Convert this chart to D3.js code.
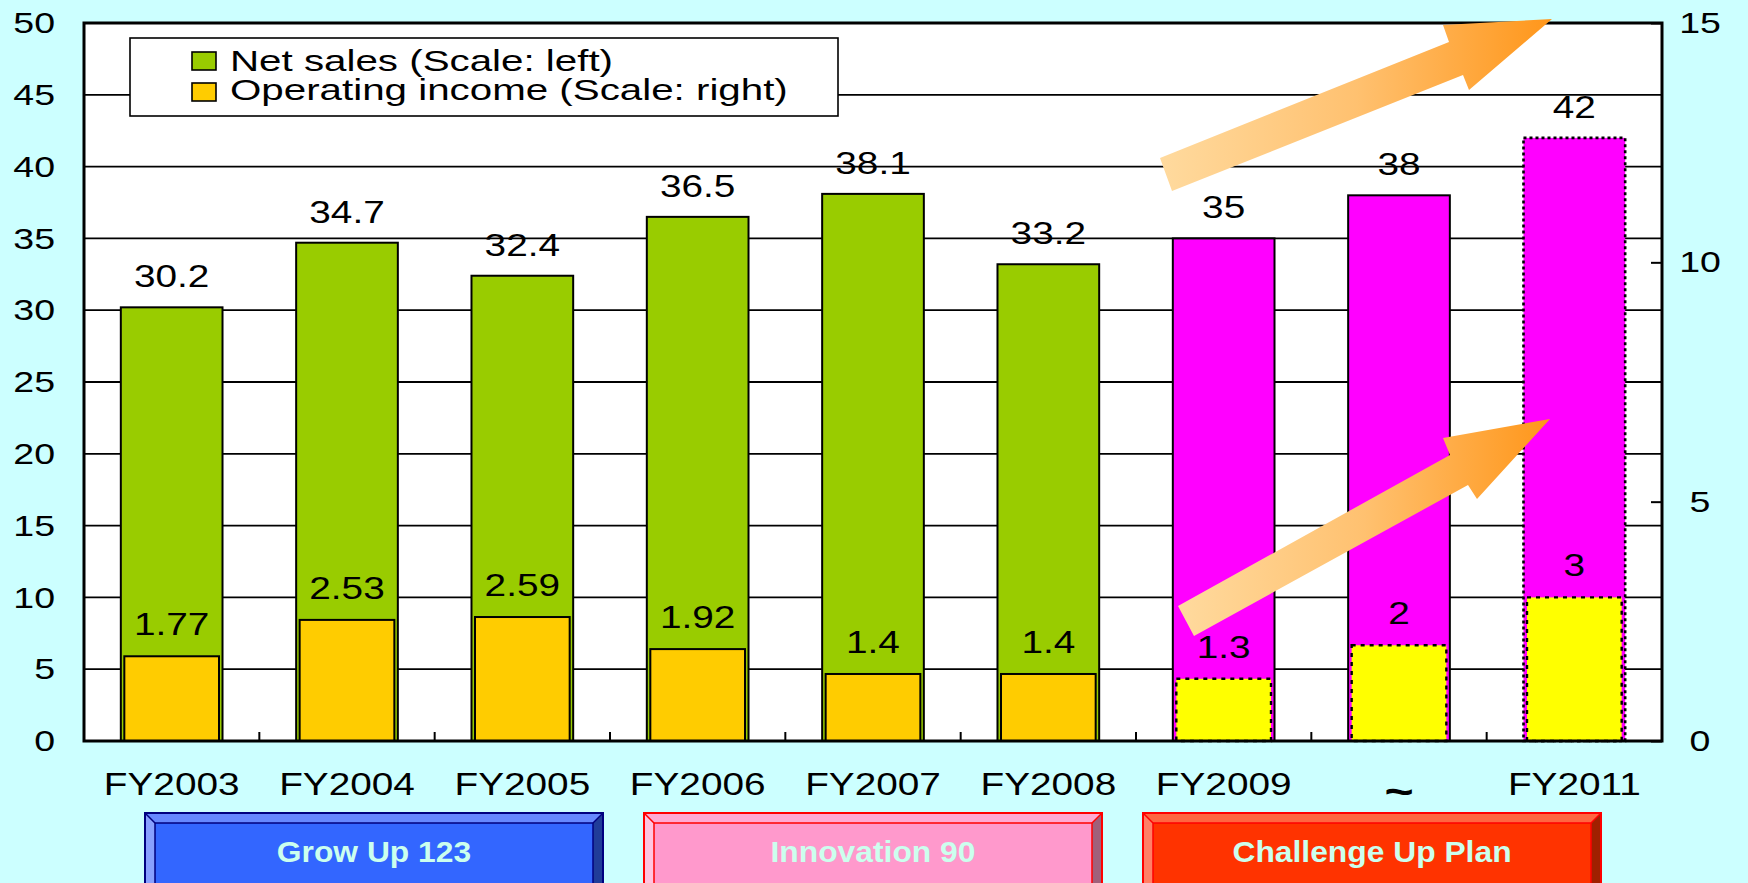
<!DOCTYPE html>
<html>
<head>
<meta charset="utf-8">
<script src="https://cdn.jsdelivr.net/npm/d3@7"></script>
<style>
  html, body { margin: 0; padding: 0; background: #CCFFFF; }
  svg { display: block; }
  text { font-family: "Liberation Sans", Arial, Helvetica, sans-serif; }
</style>
</head>
<body>
<svg id="chart" width="1748" height="883"></svg>
<script>
// ---- data ----
const categories = ["FY2003", "FY2004", "FY2005", "FY2006", "FY2007", "FY2008", "FY2009", "~", "FY2011"];
const netSales = [30.2, 34.7, 32.4, 36.5, 38.1, 33.2, 35, 38, 42];           // billion yen, left scale
const operatingIncome = [1.77, 2.53, 2.59, 1.92, 1.4, 1.4, 1.3, 2, 3];     // billion yen, right scale
const basis = ["actual", "actual", "actual", "actual", "actual", "actual", "forecast", "plan", "target"];
const leftTicks = [0, 5, 10, 15, 20, 25, 30, 35, 40, 45, 50];
const rightTicks = [0, 5, 10, 15];
const seriesNames = ["Net sales (Scale: left)", "Operating income (Scale: right)"];
const planNames = ["Grow Up 123", "Innovation 90", "Challenge Up Plan"];

// ---- layout ----
const W = 1748, H = 883;
const plot = { left: 84, right: 1662, top: 23, bottom: 741 };
const SX = 1.25;           // wide lettering used throughout the chart
const FONT = 31;

const svg = d3.select("#chart");
const defs = svg.append("defs");

svg.append("rect").attr("width", W).attr("height", H).attr("fill", "#CCFFFF");

const x = d3.scaleBand().domain(categories).range([plot.left, plot.right]);
const yL = d3.scaleLinear().domain([0, 50]).range([plot.bottom, plot.top]);
const yR = d3.scaleLinear().domain([0, 15]).range([plot.bottom, plot.top]);
const cx = c => x(c) + x.bandwidth() / 2;

// horizontally widen a text selection while keeping its anchor point
function widen(sel, sx) {
  sel.each(function () {
    const t = d3.select(this);
    const xv = +t.attr("x") || 0;
    t.attr("x", xv / sx).attr("transform", `scale(${sx},1)`);
  });
}

// plot area
svg.append("rect")
  .attr("x", plot.left).attr("y", plot.top)
  .attr("width", plot.right - plot.left).attr("height", plot.bottom - plot.top)
  .attr("fill", "#FFFFFF");

// horizontal gridlines on the left scale
svg.append("g").selectAll("line")
  .data(leftTicks.filter(v => v > 0 && v < 50))
  .join("line")
  .attr("x1", plot.left).attr("x2", plot.right)
  .attr("y1", d => yL(d)).attr("y2", d => yL(d))
  .attr("stroke", "#000").attr("stroke-width", 1.8);

const idx = d3.range(categories.length);
const bwN = x.bandwidth() * 0.58;
const bwO = x.bandwidth() * 0.54;

// net sales bars
svg.append("g").selectAll("rect").data(idx).join("rect")
  .attr("x", i => cx(categories[i]) - bwN / 2)
  .attr("width", bwN)
  .attr("y", i => yL(netSales[i]))
  .attr("height", i => yL(0) - yL(netSales[i]))
  .attr("fill", i => basis[i] === "actual" ? "#99CC00" : "#FF00FF")
  .attr("stroke", "#000")
  .attr("stroke-width", i => basis[i] === "target" ? 2.6 : 2)
  .attr("stroke-dasharray", i => basis[i] === "target" ? "3,3" : null);

// operating income bars
svg.append("g").selectAll("rect").data(idx).join("rect")
  .attr("x", i => cx(categories[i]) - bwO / 2)
  .attr("width", bwO)
  .attr("y", i => yR(operatingIncome[i]))
  .attr("height", i => yR(0) - yR(operatingIncome[i]))
  .attr("fill", i => basis[i] === "actual" ? "#FFCC00" : "#FFFF00")
  .attr("stroke", "#000")
  .attr("stroke-width", i => basis[i] === "actual" ? 2 : 2.4)
  .attr("stroke-dasharray", i => basis[i] === "actual" ? null : "4,5");

// value labels
const nsLabels = svg.append("g").selectAll("text").data(idx).join("text")
  .attr("x", i => cx(categories[i]))
  .attr("y", i => yL(netSales[i]) - 20)
  .attr("text-anchor", "middle")
  .attr("font-size", FONT)
  .attr("fill", "#000")
  .text(i => netSales[i]);
widen(nsLabels, SX);

const oiLabels = svg.append("g").selectAll("text").data(idx).join("text")
  .attr("x", i => cx(categories[i]))
  .attr("y", i => yR(operatingIncome[i]) - 21)
  .attr("text-anchor", "middle")
  .attr("font-size", FONT)
  .attr("fill", "#000")
  .text(i => operatingIncome[i]);
widen(oiLabels, SX);

// plot frame
svg.append("rect")
  .attr("x", plot.left).attr("y", plot.top)
  .attr("width", plot.right - plot.left).attr("height", plot.bottom - plot.top)
  .attr("fill", "none").attr("stroke", "#000").attr("stroke-width", 3);

// category ticks between the bars
svg.append("g").selectAll("line")
  .data(categories.slice(1))
  .join("line")
  .attr("x1", d => x(d)).attr("x2", d => x(d))
  .attr("y1", plot.bottom).attr("y2", plot.bottom - 9)
  .attr("stroke", "#000").attr("stroke-width", 2);

// left axis
const gL = svg.append("g").attr("transform", `translate(${plot.left},0)`)
  .call(d3.axisLeft(yL).tickValues(leftTicks).tickSize(0).tickPadding(29));
gL.select(".domain").remove();
gL.selectAll("text").attr("font-size", 30).attr("font-family", null).attr("fill", "#000");
widen(gL.selectAll("text"), SX);

// right axis
const gR = svg.append("g").attr("transform", `translate(${plot.right},0)`)
  .call(d3.axisRight(yR).tickValues(rightTicks).tickSizeInner(-11).tickSizeOuter(0));
gR.select(".domain").remove();
gR.selectAll("line").attr("stroke", "#000").attr("stroke-width", 2);
gR.selectAll("text").attr("x", 38).attr("text-anchor", "middle")
  .attr("font-size", 30).attr("font-family", null).attr("fill", "#000");
widen(gR.selectAll("text"), SX);

// category axis
const gB = svg.append("g").attr("transform", `translate(0,${plot.bottom})`)
  .call(d3.axisBottom(x).tickSize(0).tickPadding(32));
gB.select(".domain").remove();
gB.selectAll("text").attr("font-size", FONT).attr("font-family", null).attr("fill", "#000");
gB.selectAll("text").filter(d => d === "~")
  .attr("font-size", 40).attr("font-weight", "bold").attr("dy", "0.8em");
widen(gB.selectAll("text"), SX);

// legend
const lg = svg.append("g");
lg.append("rect").attr("x", 130).attr("y", 38).attr("width", 708).attr("height", 78)
  .attr("fill", "#FFFFFF").attr("stroke", "#000").attr("stroke-width", 1.6);
const legendColors = ["#99CC00", "#FFCC00"];
seriesNames.forEach((name, k) => {
  lg.append("rect").attr("x", 192).attr("y", 52 + k * 31).attr("width", 24).attr("height", 18)
    .attr("fill", legendColors[k]).attr("stroke", "#000").attr("stroke-width", 1.6);
  const t = lg.append("text").attr("x", 230).attr("y", 71 + k * 29)
    .attr("font-size", 29).attr("fill", "#000").text(name);
  widen(t, 1.39);
});

// growth arrows
const grad = defs.append("linearGradient").attr("id", "arrowFill")
  .attr("x1", "0").attr("y1", "0").attr("x2", "1").attr("y2", "0");
grad.append("stop").attr("offset", "0").attr("stop-color", "#FFDA9E");
grad.append("stop").attr("offset", "0.5").attr("stop-color", "#FFC170");
grad.append("stop").attr("offset", "1").attr("stop-color", "#FF961A");

const arrows = [
  [[1160, 158], [1449, 42], [1443, 25], [1552, 19], [1469, 90], [1463, 75], [1172, 191]],
  [[1178, 606], [1450, 455], [1443, 438], [1550, 419], [1477, 499], [1468, 485], [1194, 636]]
];
svg.append("g").selectAll("path").data(arrows).join("path")
  .attr("d", d => d3.line()(d) + "Z")
  .attr("fill", "url(#arrowFill)");

// mid-term plan banners
const banners = [
  { x: 145, face: "#3366FF", edge: "#000080", top: "#6688FF", left: "#88A0FF", right: "#203C99", bottom: "#3050CC" },
  { x: 644, face: "#FF99CC", edge: "#FF0000", top: "#FFAAD4", left: "#FFC4E0", right: "#A0607A", bottom: "#CC7799" },
  { x: 1143, face: "#FF3300", edge: "#FF0000", top: "#FF6640", left: "#FF8066", right: "#A02000", bottom: "#CC2900" }
];
const bw = 458, bh = 82, bev = 10, by = 813;
planNames.forEach((name, k) => {
  const b = banners[k];
  const g = svg.append("g").attr("transform", `translate(${b.x},${by})`);
  const poly = (pts, fill) => g.append("path").attr("d", d3.line()(pts) + "Z").attr("fill", fill);
  poly([[0, 0], [bw, 0], [bw - bev, bev], [bev, bev]], b.top);
  poly([[0, 0], [bev, bev], [bev, bh - bev], [0, bh]], b.left);
  poly([[bw, 0], [bw, bh], [bw - bev, bh - bev], [bw - bev, bev]], b.right);
  poly([[0, bh], [bev, bh - bev], [bw - bev, bh - bev], [bw, bh]], b.bottom);
  g.append("rect").attr("x", bev).attr("y", bev).attr("width", bw - 2 * bev).attr("height", bh - 2 * bev)
    .attr("fill", b.face).attr("stroke", b.edge).attr("stroke-width", 1.5);
  g.append("rect").attr("x", 0).attr("y", 0).attr("width", bw).attr("height", bh)
    .attr("fill", "none").attr("stroke", b.edge).attr("stroke-width", 2);
  [[0, 0, bev, bev], [bw, 0, bw - bev, bev], [0, bh, bev, bh - bev], [bw, bh, bw - bev, bh - bev]].forEach(l => {
    g.append("line").attr("x1", l[0]).attr("y1", l[1]).attr("x2", l[2]).attr("y2", l[3])
      .attr("stroke", b.edge).attr("stroke-width", 1.5);
  });
  const t = g.append("text").attr("x", bw / 2).attr("y", 49)
    .attr("text-anchor", "middle").attr("font-size", 30).attr("font-weight", "bold")
    .attr("fill", "#CCFFEE").text(name);
  widen(t, 1.06);
});
</script>
</body>
</html>
